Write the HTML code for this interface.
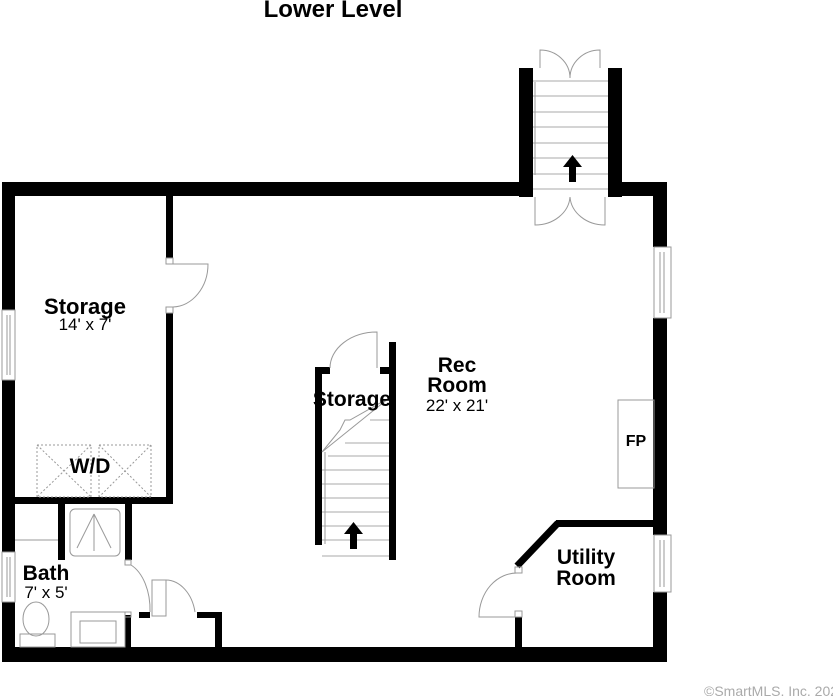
<!DOCTYPE html>
<html><head><meta charset="utf-8"><style>
html,body{margin:0;padding:0;background:#fff;width:833px;height:696px;overflow:hidden}
svg text{font-family:"Liberation Sans",Arial,sans-serif;fill:#000}
</style></head><body>
<svg width="833" height="696" viewBox="0 0 833 696" xmlns="http://www.w3.org/2000/svg">
<text x="333" y="17" font-size="24" font-weight="bold" text-anchor="middle">Lower Level</text>
<g fill="#000">
<rect x="2" y="182" width="526" height="14"/>
<rect x="2" y="182" width="13" height="128"/>
<rect x="2" y="380" width="13" height="172"/>
<rect x="2" y="602" width="13" height="60"/>
<rect x="2" y="647" width="665" height="15"/>
<rect x="519" y="68" width="14" height="129"/>
<rect x="608" y="68" width="14" height="129"/>
<rect x="608" y="182" width="59" height="14"/>
<rect x="653" y="182" width="14" height="65"/>
<rect x="653" y="318" width="14" height="217"/>
<rect x="653" y="592" width="14" height="70"/>
<rect x="166" y="196" width="7" height="62"/>
<rect x="166" y="313" width="7" height="191"/>
<rect x="15" y="497" width="158" height="7"/>
<rect x="58" y="504" width="7" height="56"/>
<rect x="125" y="504" width="7" height="56"/>
<rect x="125" y="615" width="6" height="33"/>
<rect x="139" y="612" width="11" height="6"/>
<rect x="197" y="612" width="25" height="6"/>
<rect x="215" y="612" width="7" height="36"/>
<rect x="315" y="367" width="7" height="178"/>
<rect x="315" y="367" width="15" height="7"/>
<rect x="380" y="367" width="16" height="7"/>
<rect x="389" y="342" width="7" height="218"/>
<rect x="556" y="520" width="97" height="7"/>
<rect x="515" y="617" width="7" height="31"/>
</g>
<line x1="558" y1="523" x2="517" y2="566" stroke="#000" stroke-width="7"/>
<g fill="none" stroke="#999" stroke-width="1">
<rect x="654" y="247" width="17" height="71"/><line x1="660" y1="252" x2="660" y2="313"/><line x1="664" y1="252" x2="664" y2="313"/>
<rect x="654" y="535" width="17" height="57"/><line x1="660" y1="540" x2="660" y2="587"/><line x1="664" y1="540" x2="664" y2="587"/>
<rect x="2" y="310" width="13" height="70"/><line x1="7" y1="315" x2="7" y2="375"/><line x1="10" y1="315" x2="10" y2="375"/>
<rect x="2" y="552" width="13" height="50"/><line x1="7" y1="557" x2="7" y2="597"/><line x1="10" y1="557" x2="10" y2="597"/>
<rect x="166" y="258" width="7" height="6"/><rect x="166" y="307" width="7" height="6"/>
<path d="M173 264 L208 264 A 36 43 0 0 1 173 307"/>
<rect x="37" y="445" width="54" height="52" stroke-dasharray="2,2"/>
<line x1="37" y1="445" x2="91" y2="497" stroke-dasharray="2,2"/><line x1="91" y1="445" x2="37" y2="497" stroke-dasharray="2,2"/>
<rect x="99" y="445" width="52" height="52" stroke-dasharray="2,2"/>
<line x1="99" y1="445" x2="151" y2="497" stroke-dasharray="2,2"/><line x1="151" y1="445" x2="99" y2="497" stroke-dasharray="2,2"/>
<rect x="70" y="509" width="50" height="47" rx="5"/>
<line x1="94" y1="514" x2="94" y2="551"/><line x1="94" y1="514" x2="77" y2="548"/><line x1="94" y1="514" x2="111" y2="548"/>
<line x1="15" y1="540" x2="58" y2="540"/>
<rect x="125" y="560" width="6" height="5"/><rect x="125" y="612" width="6" height="5"/>
<path d="M131 565 A 30 48 0 0 1 150 612"/>
<rect x="152" y="580" width="14" height="36"/>
<path d="M166 580 A 30 40 0 0 1 195 612"/>
<ellipse cx="36" cy="619" rx="13" ry="17"/>
<rect x="20" y="634" width="35" height="13"/>
<rect x="71" y="612" width="54" height="35"/>
<rect x="80" y="621" width="36" height="22"/>
<path d="M330 368 A 47 36 0 0 1 377 332 L377 368"/>
<path d="M322 452 L389 398 L350 420 L345 420 L340 430 L322 452"/>
<g stroke="#aaa">
<line x1="322" y1="470" x2="389" y2="470"/><line x1="322" y1="484" x2="389" y2="484"/><line x1="322" y1="498" x2="389" y2="498"/>
<line x1="322" y1="512" x2="389" y2="512"/><line x1="322" y1="526" x2="389" y2="526"/><line x1="322" y1="540" x2="389" y2="540"/>
<line x1="322" y1="556" x2="389" y2="556"/><line x1="370" y1="420" x2="389" y2="420"/><line x1="345" y1="443" x2="389" y2="443"/><line x1="328" y1="456" x2="389" y2="456"/>
</g>
<line x1="325" y1="452" x2="325" y2="544"/>
<g stroke="#aaa">
<line x1="533" y1="81" x2="608" y2="81"/><line x1="533" y1="96" x2="608" y2="96"/><line x1="533" y1="112" x2="608" y2="112"/>
<line x1="533" y1="127" x2="608" y2="127"/><line x1="533" y1="143" x2="608" y2="143"/><line x1="533" y1="158" x2="608" y2="158"/>
<line x1="533" y1="174" x2="608" y2="174"/><line x1="533" y1="189" x2="608" y2="189"/>
</g>
<line x1="535" y1="82" x2="535" y2="175"/>
<path d="M540 68 L540 50 A 30 28 0 0 1 570 78 A 30 28 0 0 1 600 50 L600 68"/>
<path d="M535 197 L535 225 A 35 30 0 0 0 570 197 A 35 30 0 0 0 605 225 L605 197"/>
<rect x="515" y="567" width="7" height="6"/><rect x="515" y="611" width="7" height="6"/>
<path d="M518 573 A 38 44 0 0 0 479 617 L518 617"/>
<rect x="618" y="400" width="36" height="88"/>
</g>
<g fill="#000">
<rect x="569" y="166" width="7" height="16"/><path d="M563 167 L572.5 155 L582 167 Z"/>
<rect x="350" y="533" width="7" height="16"/><path d="M344 534 L353.5 522 L363 534 Z"/>
</g>
<text x="85" y="314" font-size="22" font-weight="bold" text-anchor="middle">Storage</text>
<text x="85" y="330" font-size="17" text-anchor="middle">14' x 7'</text>
<text x="90" y="473" font-size="21" font-weight="bold" text-anchor="middle">W/D</text>
<text x="46" y="580" font-size="21" font-weight="bold" text-anchor="middle">Bath</text>
<text x="46" y="598" font-size="17" text-anchor="middle">7' x 5'</text>
<text x="352" y="406" font-size="21" font-weight="bold" text-anchor="middle">Storage</text>
<text x="457" y="372" font-size="21" font-weight="bold" text-anchor="middle">Rec</text>
<text x="457" y="392" font-size="21" font-weight="bold" text-anchor="middle">Room</text>
<text x="457" y="411" font-size="17" text-anchor="middle">22' x 21'</text>
<text x="586" y="564" font-size="21" font-weight="bold" text-anchor="middle">Utility</text>
<text x="586" y="585" font-size="21" font-weight="bold" text-anchor="middle">Room</text>
<text x="636" y="446" font-size="16" font-weight="bold" text-anchor="middle">FP</text>
<text x="704" y="696" font-size="14" style="fill:#aaa">©SmartMLS, Inc. 2021</text>
</svg>
</body></html>
